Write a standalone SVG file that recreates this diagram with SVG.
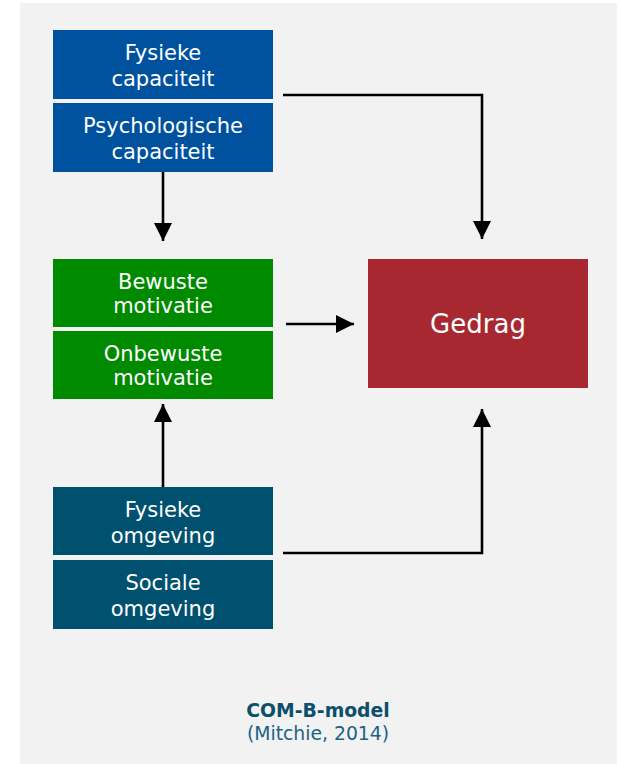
<svg xmlns="http://www.w3.org/2000/svg" width="621" height="764" viewBox="0 0 621 764">
<defs>
<style>
.bg{fill:#f2f2f2}
.blue{fill:#00529f}
.green{fill:#008a00}
.teal{fill:#005070}
.red{fill:#a82831}
.lbl{font-family:"DejaVu Sans",Verdana,sans-serif;font-size:21px;fill:#ffffff;text-anchor:middle}
.big{font-family:"DejaVu Sans",Verdana,sans-serif;font-size:26px;fill:#ffffff;text-anchor:middle}
.cap1{font-family:"DejaVu Sans",Verdana,sans-serif;font-size:18.8px;font-weight:bold;fill:#0b4f6c;text-anchor:middle}
.cap2{font-family:"DejaVu Sans",Verdana,sans-serif;font-size:18.8px;fill:#1a6384;text-anchor:middle}
.conn{fill:none;stroke:#000000;stroke-width:2.6;marker-end:url(#arr)}
</style>
<marker id="arr" markerUnits="userSpaceOnUse" markerWidth="18" markerHeight="18" viewBox="0 0 16 16" refX="16" refY="8" orient="auto">
<path d="M0,0 L16,8 L0,16 Z" fill="#000000"/>
</marker>
</defs>
<rect class="bg" x="20" y="3" width="597" height="761"/>
<g id="fysieke-capaciteit">
<rect class="blue" x="53" y="30" width="220" height="69"/>
<text class="lbl" x="163" y="60">Fysieke</text>
<text class="lbl" x="163" y="86">capaciteit</text>
</g>
<g id="psychologische-capaciteit">
<rect class="blue" x="53" y="103" width="220" height="69"/>
<text class="lbl" x="163" y="133">Psychologische</text>
<text class="lbl" x="163" y="159">capaciteit</text>
</g>
<g id="bewuste-motivatie">
<rect class="green" x="53" y="259" width="220" height="68"/>
<text class="lbl" x="163" y="289">Bewuste</text>
<text class="lbl" x="163" y="313">motivatie</text>
</g>
<g id="onbewuste-motivatie">
<rect class="green" x="53" y="331" width="220" height="68"/>
<text class="lbl" x="163" y="361">Onbewuste</text>
<text class="lbl" x="163" y="385">motivatie</text>
</g>
<g id="fysieke-omgeving">
<rect class="teal" x="53" y="487" width="220" height="68"/>
<text class="lbl" x="163" y="517">Fysieke</text>
<text class="lbl" x="163" y="543">omgeving</text>
</g>
<g id="sociale-omgeving">
<rect class="teal" x="53" y="560" width="220" height="69"/>
<text class="lbl" x="163" y="590">Sociale</text>
<text class="lbl" x="163" y="616">omgeving</text>
</g>
<g id="gedrag">
<rect class="red" x="368" y="259" width="220" height="129"/>
<text class="big" x="478" y="333">Gedrag</text>
</g>
<g id="connectors">
<path class="conn" d="M283,95 H482 V239"/>
<path class="conn" d="M163,172 V241"/>
<path class="conn" d="M286,324 H354"/>
<path class="conn" d="M163,487 V404"/>
<path class="conn" d="M283,553 H482 V409"/>
</g>
<g id="caption">
<text class="cap1" x="318" y="717">COM-B-model</text>
<text class="cap2" x="318" y="740">(Mitchie, 2014)</text>
</g>
</svg>
